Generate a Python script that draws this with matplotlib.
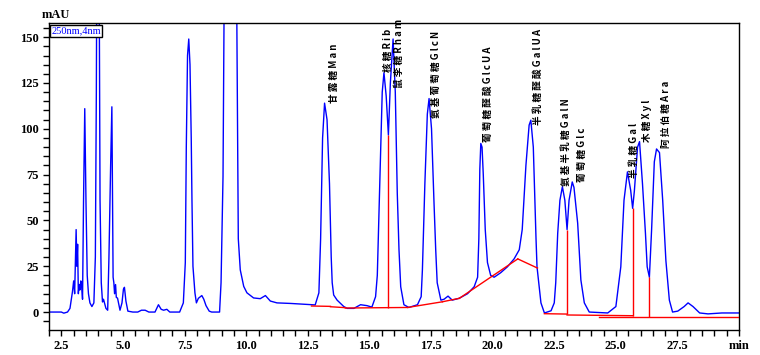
import matplotlib
matplotlib.use('Agg')
import matplotlib.pyplot as plt
import numpy as np

# chromatogram trace (time in min, signal in mAU)
time = [2.0, 2.5, 2.6, 2.75, 2.85, 2.95, 3.0, 3.04, 3.1, 3.13, 3.16, 3.19, 3.22, 3.25, 3.29, 3.32,
        3.36, 3.40, 3.45, 3.50, 3.55, 3.60, 3.66, 3.74, 3.82, 3.88, 3.92, 3.97, 4.03, 4.07, 4.12,
        4.17, 4.21, 4.25, 4.31, 4.38, 4.43, 4.50, 4.55, 4.58, 4.60, 4.63, 4.66, 4.70, 4.73, 4.78,
        4.88, 4.96, 5.02, 5.06, 5.12, 5.2, 5.4, 5.6, 5.75, 5.9, 6.05, 6.3, 6.44, 6.55, 6.65, 6.78,
        6.9, 7.3, 7.45, 7.53, 7.57, 7.62, 7.67, 7.72, 7.77, 7.8, 7.84, 7.92, 7.98, 8.06, 8.2, 8.28,
        8.37, 8.5, 8.6, 8.92, 8.98, 9.06, 9.12, 9.35, 9.6, 9.68, 9.76, 9.9, 10.03, 10.3, 10.57,
        10.78, 10.98, 11.25, 11.8, 12.8, 12.95, 13.02, 13.1, 13.18, 13.28, 13.38, 13.45, 13.49,
        13.55, 13.69, 13.96, 14.1, 14.37, 14.64, 14.9, 15.1, 15.25, 15.32, 15.42, 15.52, 15.59,
        15.68, 15.77, 15.85, 15.96, 16.05, 16.13, 16.2, 16.27, 16.4, 16.6, 16.95, 17.1, 17.15,
        17.25, 17.35, 17.42, 17.52, 17.62, 17.69, 17.75, 17.9, 18.03, 18.19, 18.36, 18.64, 18.98,
        19.25, 19.39, 19.44, 19.48, 19.52, 19.57, 19.62, 19.7, 19.79, 19.92, 20.06, 20.33, 20.6,
        20.87, 21.08, 21.2, 21.35, 21.48, 21.55, 21.65, 21.76, 21.8, 21.96, 22.1, 22.37, 22.5,
        22.56, 22.64, 22.73, 22.83, 22.93, 23.02, 23.1, 23.23, 23.3, 23.45, 23.58, 23.72, 23.92,
        24.67, 25.0, 25.2, 25.33, 25.47, 25.6, 25.68, 25.75, 25.88, 25.96, 26.08, 26.2, 26.27,
        26.36, 26.45, 26.56, 26.65, 26.77, 26.9, 27.03, 27.17, 27.3, 27.51, 27.77, 27.93, 28.13,
        28.4, 28.74, 29.3, 29.6, 30.0]
signal = [0, 0, -0.6, 0, 2, 11, 17, 10, 45, 25, 37, 10, 15, 12, 17, 15,
          7, 60, 111, 60, 20, 10, 5, 3, 5, 30, 120, 300, 200, 61, 16,
          5.5, 7, 5, 2, 1, 29, 80, 112, 60, 19, 16, 10, 15, 8, 7.6,
          1, 5, 12.5, 13.5, 6, 0.5, 0, 0, 1, 1, 0, 0, 4, 1.5, 1, 1.5,
          0, 0, 5, 27, 90, 140, 149, 135, 95, 61, 25, 10.5, 5, 7.5, 9, 7,
          3.5, 0.5, 0, 0, 16, 74, 200, 700, 200, 40, 23, 14, 10.5, 7.7, 7.3,
          9, 6, 5, 4.7, 3.9, 10.5, 40, 95, 114, 105, 70, 30, 16,
          9.3, 6.5, 3, 2, 2, 4, 3.5, 2.7, 8.4, 20, 70, 120, 130.6,
          118, 96.6, 125, 149, 120, 65, 34, 13.8, 4, 2.5, 4, 8.4, 23,
          70, 108, 116.5, 100, 60, 34, 16, 6.5, 7, 8.7, 6.5, 7.5, 10,
          13.8, 19, 40, 78, 92, 90, 75, 45, 27, 20, 19, 21.5, 24.7,
          29, 34, 45, 80, 102, 104.7, 90, 40, 24.7, 5, -0.5, 0.7, 5,
          16, 43, 61, 68.4, 61, 45, 61, 71, 68, 48.5, 17.5, 5, 0,
          -0.5, 3, 24.7, 61, 76.5, 66.5, 56.6, 66, 90, 93, 70, 43, 24.7,
          19, 45, 82, 89, 87, 61, 28, 6.5, 0, 0.5, 3, 5, 3,
          -0.5, -1, -0.5, -0.5, -0.5]

# integration baselines (red)
base_segments = [
    ([12.65, 13.42], [3.3, 3.1]),
    ([13.42, 14.02], [2.9, 2.4]),
    ([14.02, 16.55], [2.2, 2.5]),
    ([16.55, 17.96], [2.5, 5.6]),
    ([17.96, 18.65], [5.6, 7.5]),
    ([18.65, 21.02], [7.5, 29]),
    ([21.02, 21.82], [29, 24]),
    ([22.1, 23.02], [-0.9, -1.1]),
    ([23.02, 25.7], [-1.6, -2.0]),
    ([24.3, 29.95], [-2.6, -2.6]),
]
drop_t = [15.77, 23.02, 25.68, 26.36]
drop_lo = [2.3, -1.1, -2.0, -2.6]
drop_hi = [96.6, 45, 56.6, 19]

# peak labels
peak_names = ['甘 露 糖 M a n', '核 糖 R i b', '鼠 李 糖 R h a m', '氨 基 葡 萄 糖 G l c N',
              '葡 萄 糖 醛 酸 G l c U A', '半 乳 糖 醛 酸 G a l U A', '氨 基 半 乳 糖 G a l N',
              '葡 萄 糖 G l c', '半 乳 糖 G a l', '木 糖 X y l', '阿 拉 伯 糖 A r a']
label_t = [13.55, 15.74, 16.2, 17.7, 19.8, 21.84, 22.98, 23.62, 25.72, 26.27, 27.02]
label_v = [114, 131, 122, 106, 93, 102, 69, 71, 73, 93, 89.5]

xticks = [2.5, 5.0, 7.5, 10.0, 12.5, 15.0, 17.5, 20.0, 22.5, 25.0, 27.5, 30.0]
xtick_labels = ['2.5', '5.0', '7.5', '10.0', '12.5', '15.0', '17.5', '20.0', '22.5', '25.0', '27.5', 'min']
yticks = [0, 25, 50, 75, 100, 125, 150]

fig = plt.figure(figsize=(7.6, 3.55), dpi=100)
ax = fig.add_axes([0.0645, 0.0704, 0.908, 0.8646])

ax.plot(time, signal, color='blue', lw=1.0, zorder=2)
for bt, bv in base_segments:
    ax.plot(bt, bv, color='red', lw=1.0, zorder=3)
ax.vlines(drop_t, drop_lo, drop_hi, color='red', lw=1.0, zorder=3)

for name, t, v in zip(peak_names, label_t, label_v):
    ax.text(t, v, name, rotation=90, ha='center', va='bottom', fontsize=6.9,
            family=['Noto Sans CJK SC', 'DejaVu Sans'], fontweight='bold',
            color='black', zorder=4)

ax.set_xlim(2.0, 30.0)
ax.set_ylim(-9.8, 157.7)
ax.set_xticks(xticks)
ax.set_xticklabels(xtick_labels)
ax.set_yticks(yticks)
ax.set_xticks(np.arange(2.0, 30.01, 0.5), minor=True)
ax.set_yticks(np.arange(-5, 156, 5), minor=True)
ax.tick_params(which='both', direction='out', length=4, width=1, color='black')
for lab in ax.get_xticklabels() + ax.get_yticklabels():
    lab.set_fontfamily('Liberation Serif')
    lab.set_fontweight('bold')
    lab.set_fontsize(9)
for s in ax.spines.values():
    s.set_linewidth(1.0)
    s.set_color('black')

fig.text(0.055, 0.94, 'mAU', fontsize=9, family='Liberation Serif', fontweight='bold',
         ha='left', va='bottom')
ax.text(0.003, 0.99, '250nm,4nm', transform=ax.transAxes, fontsize=7.5, color='blue',
        family='Liberation Serif', ha='left', va='top', zorder=5,
        bbox=dict(boxstyle='square,pad=0.15', facecolor='white', edgecolor='black', lw=1))

fig.savefig('out.png', dpi=100)
